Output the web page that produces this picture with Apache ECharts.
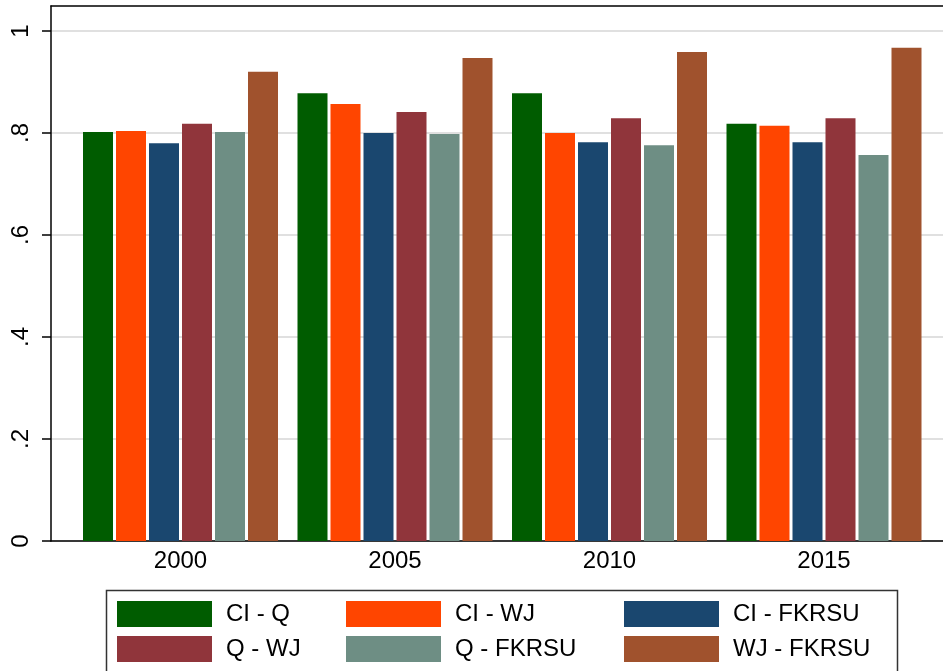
<!DOCTYPE html>
<html>
<head>
<meta charset="utf-8">
<script src="https://cdn.jsdelivr.net/npm/echarts@6/dist/echarts.min.js"></script>
<style>
  html, body { margin: 0; padding: 0; background: #fff; }
  #chart { width: 943px; height: 671px; }
</style>
</head>
<body>
<div id="chart"></div>
<script>
// 数据
var years = ['2000', '2005', '2010', '2015'];
var yTicks = [0, 0.2, 0.4, 0.6, 0.8, 1];
var yTickLabels = ['0', '.2', '.4', '.6', '.8', '1'];

var ciQ = [0.802, 0.878, 0.878, 0.818];
var ciWJ = [0.804, 0.857, 0.800, 0.814];
var ciFKRSU = [0.780, 0.800, 0.782, 0.782];
var qWJ = [0.818, 0.841, 0.829, 0.829];
var qFKRSU = [0.802, 0.798, 0.776, 0.757];
var wjFKRSU = [0.920, 0.947, 0.959, 0.967];

var seriesNames = ['CI - Q', 'CI - WJ', 'CI - FKRSU', 'Q - WJ', 'Q - FKRSU', 'WJ - FKRSU'];
var seriesData = [ciQ, ciWJ, ciFKRSU, qWJ, qFKRSU, wjFKRSU];
var colors = ['#005c00', '#ff4500', '#1a476f', '#90353b', '#6e8e84', '#a0522d'];

var font = 'Liberation Sans, Arial, sans-serif';
var yMax = 1.049;

function makeLegend(names, left) {
  return {
    data: names,
    orient: 'vertical',
    left: left,
    top: 601,
    padding: 0,
    itemWidth: 95,
    itemHeight: 26,
    itemGap: 9,
    icon: 'rect',
    selectedMode: false,
    textStyle: { fontFamily: font, fontSize: 24, color: '#000', padding: [0, 0, 0, 9] }
  };
}

var frameLine = { show: true, lineStyle: { color: '#000', width: 1.5 } };

var chart = echarts.init(document.getElementById('chart'));
var option = {
  backgroundColor: '#fff',
  animation: false,
  grid: [
    // 外框和y轴（右边在画面外）
    { left: 51, top: 6, right: -30, bottom: 130, outerBoundsMode: 'none' },
    // 柱子
    { left: 73.25, top: 6, right: 11.75, bottom: 130, outerBoundsMode: 'none' }
  ],
  xAxis: [
    {
      gridIndex: 0, type: 'value', min: 0, max: 1, position: 'bottom',
      axisLine: frameLine,
      axisTick: { show: false }, axisLabel: { show: false }, splitLine: { show: false }
    },
    {
      gridIndex: 1, type: 'category', data: years,
      axisLine: { show: false }, axisTick: { show: false },
      axisLabel: { fontFamily: font, fontSize: 24, color: '#000', margin: 8 }
    },
    {
      gridIndex: 0, type: 'value', min: 0, max: 1, position: 'top',
      axisLine: frameLine,
      axisTick: { show: false }, axisLabel: { show: false }, splitLine: { show: false }
    }
  ],
  yAxis: [
    {
      gridIndex: 0, type: 'value', min: 0, max: yMax, interval: 0.2,
      axisLine: frameLine,
      axisTick: { show: true, length: 9, customValues: yTicks, lineStyle: { color: '#000', width: 1.5 } },
      axisLabel: {
        customValues: yTicks,
        rotate: 90, margin: 18, fontFamily: font, fontSize: 24, color: '#000',
        formatter: function (v) { return yTickLabels[Math.round(v / 0.2)]; }
      },
      splitLine: { show: true, lineStyle: { color: '#e0e0e0', width: 2 } }
    },
    { gridIndex: 1, type: 'value', min: 0, max: yMax, show: false, splitLine: { show: false } }
  ],
  legend: [
    makeLegend(['CI - Q', 'Q - WJ'], 117),
    makeLegend(['CI - WJ', 'Q - FKRSU'], 346),
    makeLegend(['CI - FKRSU', 'WJ - FKRSU'], 624)
  ],
  graphic: [
    {
      type: 'rect',
      shape: { x: 106.5, y: 590.5, width: 791, height: 100 },
      style: { fill: 'none', stroke: '#333', lineWidth: 1.5 }
    }
  ],
  series: seriesNames.map(function (name, i) {
    return {
      name: name,
      type: 'bar',
      xAxisIndex: 1,
      yAxisIndex: 1,
      data: seriesData[i],
      barWidth: 30,
      barGap: '10%',
      itemStyle: { color: colors[i] }
    };
  })
};
chart.setOption(option);
</script>
</body>
</html>
